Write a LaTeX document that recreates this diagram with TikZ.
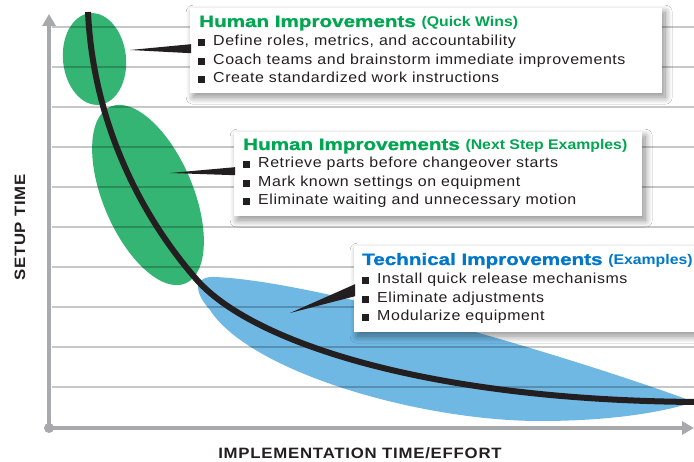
\documentclass[tikz,border=0pt]{standalone}
\usepackage{fontspec}
\setmainfont{Liberation Sans}
\newfontfamily\bodyfont{Liberation Sans}[FakeStretch=1.1,LetterSpace=4]
\newfontfamily\headfont{Liberation Sans}[FakeStretch=1.25,BoldFeatures={FakeBold=1.3}]
\newfontfamily\subheadfont{Liberation Sans}[FakeStretch=1.13]
\newfontfamily\axisfont{Liberation Sans}[FakeStretch=1.12,LetterSpace=5]
\usetikzlibrary{shadows.blur,calc,arrows.meta}
\definecolor{hgreen}{RGB}{0,166,81}
\definecolor{tblue}{RGB}{0,119,200}
\definecolor{ellgreen}{RGB}{52,181,115}
\definecolor{ellblue}{RGB}{111,184,228}
\definecolor{axisgray}{RGB}{167,169,172}
\definecolor{ink}{RGB}{35,31,32}
\newcommand{\sqbullet}{\makebox[15pt][l]{\rule{7pt}{7pt}}}
\begin{document}
\begin{tikzpicture}[x=1pt,y=-1pt,
  box/.style={fill=white,inner sep=0pt,anchor=north west,
    blur shadow={shadow xshift=3pt,shadow yshift=-4pt,shadow blur radius=7pt,shadow blur steps=14,shadow opacity=45}},
  itemline/.style={anchor=base west,inner sep=0pt,text=ink,
    font=\bodyfont\fontsize{14.5}{17}\selectfont},
  headline/.style={anchor=base west,inner sep=0pt},
  gridline/.style={black,opacity=0.22,line width=1.6pt},
  axisline/.style={axisgray,line width=4.5pt,-{Triangle[length=12pt,width=13pt]}},
  setupcurve/.style={ink,line width=6pt},
  pointer/.style={fill=ink},
  axislabel/.style={inner sep=0pt,text=ink,font=\axisfont\bfseries\fontsize{15}{17}\selectfont}]
\useasboundingbox (0,0) rectangle (694,462);
\fill[white] (0,0) rectangle (694,462);
% ellipses
\fill[ellgreen,rotate around={6:(94.5,59)}] (94.5,59) ellipse [x radius=31.5,y radius=46];
\fill[ellgreen,rotate around={-67:(148,195)}] (148,195) ellipse [x radius=96,y radius=45];
\fill[ellblue] (694,402) .. controls (610,370) and (330,282) .. (215,277)
  .. controls (195,276) and (192,290) .. (210,310)
  .. controls (250,372) and (420,421) .. (540,421)
  .. controls (620,421) and (670,410) .. (694,402) -- cycle;
% grid
\foreach \gy in {27,67,...,387} \draw[gridline] (52,\gy) -- (694,\gy);
% axes
\coordinate (O) at (49,428);
\coordinate (ytop) at (49,14);
\coordinate (xend) at (694,428);
\draw[axisline] (O) -- (ytop);
\draw[axisline] (O) -- (xend);
\fill[axisgray] (O) circle (5);
% curve
\coordinate (cstart) at (88,12);
\coordinate (cmid) at (197,280);
\coordinate (cend) at (696,402);
\draw[setupcurve] (cstart) .. controls (93,120) and (139,214) .. (cmid)
  .. controls (250,340) and (420,400) .. (cend);
% pointer tips
\coordinate (tip1) at (130,50);
\coordinate (tip2) at (170,173);
\coordinate (tip3) at (290,313);
% boxes
\node[box,minimum width=472,minimum height=85] (b1) at (190,8) {};
\node[box,minimum width=408,minimum height=84] (b2) at (234,132) {};
\node[box,minimum width=350,minimum height=86] (b3) at (354,246) {};
\fill[pointer] (tip1) -- ($(b1.west)+(1,-6.5)$) -- ($(b1.west)+(1,2.5)$) -- cycle;
\fill[pointer] (tip2) -- ($(b2.west)+(1,-7)$) -- ($(b2.west)+(1,1)$) -- cycle;
\fill[pointer] (tip3) -- ($(b3.west)+(1,-5)$) -- ($(b3.west)+(1,7)$) -- cycle;
% box 1 text
\node[headline] (h1) at (199,27) {\color{hgreen}\headfont\bfseries\fontsize{16.5}{18}\selectfont Human Improvements {\subheadfont\bfseries\fontsize{14}{16}\selectfont(Quick Wins)}};
\node[itemline] (a1) at (198,46) {\sqbullet Define roles, metrics, and accountability};
\node[itemline] (a2) at (198,65) {\sqbullet Coach teams and brainstorm immediate improvements};
\node[itemline] (a3) at (198,83) {\sqbullet Create standardized work instructions};
% box 2 text
\node[headline] (h2) at (243,150) {\color{hgreen}\headfont\bfseries\fontsize{16.5}{18}\selectfont Human Improvements {\subheadfont\bfseries\fontsize{14}{16}\selectfont(Next Step Examples)}};
\node[itemline] (c1) at (243,168) {\sqbullet Retrieve parts before changeover starts};
\node[itemline] (c2) at (243,187) {\sqbullet Mark known settings on equipment};
\node[itemline] (c3) at (243,205) {\sqbullet Eliminate waiting and unnecessary motion};
% box 3 text
\node[headline] (h3) at (362,265) {\color{tblue}\headfont\bfseries\fontsize{16.5}{18}\selectfont Technical Improvements {\subheadfont\bfseries\fontsize{14}{16}\selectfont(Examples)}};
\node[itemline] (d1) at (362,284) {\sqbullet Install quick release mechanisms};
\node[itemline] (d2) at (362,303) {\sqbullet Eliminate adjustments};
\node[itemline] (d3) at (362,321) {\sqbullet Modularize equipment};
% axis labels
\node[axislabel,rotate=90,anchor=base] (ylab) at (25,227.5) {SETUP TIME};
\node[axislabel,anchor=base] (xlab) at (360,458) {IMPLEMENTATION TIME/EFFORT};
\end{tikzpicture}
\end{document}
